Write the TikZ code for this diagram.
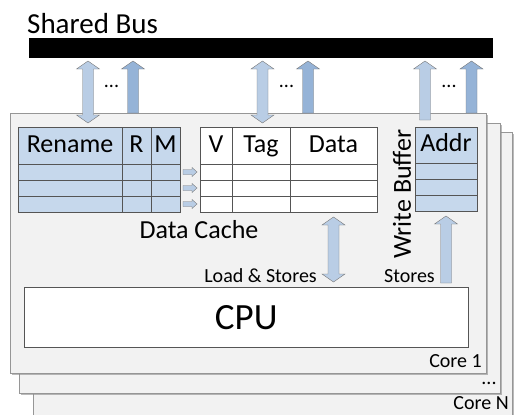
\documentclass[tikz,border=0pt]{standalone}
\usepackage{fontspec}
\setmainfont{Carlito}
\usetikzlibrary{calc, positioning, shadows}
\definecolor{corefill}{RGB}{242,242,242}
\definecolor{coreline}{RGB}{150,150,150}
\definecolor{tabblue}{RGB}{198,216,236}
\definecolor{gridline}{RGB}{85,85,85}
\definecolor{arrowlight}{RGB}{185,205,229}
\definecolor{arrowdark}{RGB}{149,179,215}
\definecolor{arrowline}{RGB}{120,120,120}

\tikzset{
  blocksize/.code n args={3}{\def\ashaft{#1}\def\ahead{#2}\def\alen{#3}},
  % block arrow with one head, drawn from the tail to the tip
  onehead/.style={draw=arrowline, to path={
    let \p1=(\tikztostart), \p2=(\tikztotarget),
        \p3=($(\p2)!\alen!(\p1)$) in
    ($(\p1)!\ashaft!90:(\p2)$) -- ($(\p3)!\ashaft!90:(\p2)$)
    -- ($(\p3)!\ahead!90:(\p2)$) -- (\p2) -- ($(\p3)!\ahead!-90:(\p2)$)
    -- ($(\p3)!\ashaft!-90:(\p2)$) -- ($(\p1)!\ashaft!-90:(\p2)$) -- cycle}},
  % block arrow with a head at both ends
  twohead/.style={draw=arrowline, to path={
    let \p1=(\tikztostart), \p2=(\tikztotarget),
        \p3=($(\p2)!\alen!(\p1)$), \p4=($(\p1)!\alen!(\p2)$) in
    (\p1) -- ($(\p4)!\ahead!90:(\p2)$) -- ($(\p4)!\ashaft!90:(\p2)$)
    -- ($(\p3)!\ashaft!90:(\p2)$) -- ($(\p3)!\ahead!90:(\p2)$) -- (\p2)
    -- ($(\p3)!\ahead!-90:(\p2)$) -- ($(\p3)!\ashaft!-90:(\p2)$)
    -- ($(\p4)!\ashaft!-90:(\p2)$) -- ($(\p4)!\ahead!-90:(\p2)$) -- cycle}},
  corebox/.style={draw=coreline, fill=corefill, anchor=north west, inner sep=0pt,
    drop shadow={shadow xshift=1.5pt, shadow yshift=-1.5pt, fill=black!45, opacity=.6}},
  cell/.style={draw=gridline, outer sep=0pt, inner sep=0pt, minimum height=16pt},
  headcell/.style={cell, minimum height=37pt, text height=17pt, text depth=4pt,
    font=\fontsize{26}{30}\selectfont},
  bigtext/.style={inner sep=0pt, font=\fontsize{26}{30}\selectfont},
  smalltext/.style={inner sep=0pt, font=\fontsize{20}{24}\selectfont},
}

\begin{document}
\begin{tikzpicture}[x=1pt, y=-1pt, blocksize={5.5pt}{11.5pt}{8pt}]
  \useasboundingbox (0,0) rectangle (515,415);

  % the bus
  \node[inner sep=0pt, font=\fontsize{29}{32}\selectfont, anchor=base west]
    (busname) at (27,33) {Shared Bus};
  \node[fill=black, anchor=north west, inner sep=0pt,
        minimum width=464pt, minimum height=20pt] (bus) at (29,38) {};

  % cores, back to front
  \node[corebox, minimum width=479pt, minimum height=300pt] (coreN) at (33,132) {};
  \node[corebox, minimum width=481pt, minimum height=270pt] (core2) at (19,123) {};
  \node[corebox, minimum width=476pt, minimum height=260pt] (core1) at (10,113) {};
  \node[smalltext, anchor=base east] (coreNname) at (509,409) {Core N};
  \node[smalltext] (coredots) at (489,383) {...};
  \node[smalltext, anchor=base east] (core1name) at (482,367) {Core 1};

  % rename table
  \node[headcell, fill=tabblue, minimum width=104pt, anchor=north west] (ren) at (18,127) {Rename};
  \node[headcell, fill=tabblue, minimum width=29pt, right=0pt of ren] (rr) {R};
  \node[headcell, fill=tabblue, minimum width=29pt, right=0pt of rr] (rm) {M};
  \foreach \col/\w in {ren/104pt, rr/29pt, rm/29pt} {
    \node[cell, fill=tabblue, minimum width=\w, below=0pt of \col] (\col1) {};
    \node[cell, fill=tabblue, minimum width=\w, below=0pt of \col1] (\col2) {};
    \node[cell, fill=tabblue, minimum width=\w, below=0pt of \col2] (\col3) {};
  }

  % data cache
  \node[headcell, fill=white, minimum width=32pt, anchor=north west] (v) at (200,127) {V};
  \node[headcell, fill=white, minimum width=58pt, right=0pt of v] (tag) {Tag};
  \node[headcell, fill=white, minimum width=87pt, right=0pt of tag] (dat) {Data};
  \foreach \col/\w in {v/32pt, tag/58pt, dat/87pt} {
    \node[cell, fill=white, minimum width=\w, below=0pt of \col] (\col1) {};
    \node[cell, fill=white, minimum width=\w, below=0pt of \col1] (\col2) {};
    \node[cell, fill=white, minimum width=\w, below=0pt of \col2] (\col3) {};
  }
  \node[bigtext, anchor=base] (cachename) at (199,238) {Data Cache};

  % write buffer
  \node[headcell, fill=tabblue, minimum width=62pt, minimum height=36pt,
        anchor=north west] (addr) at (415,127) {Addr};
  \node[cell, fill=tabblue, minimum width=62pt, below=0pt of addr] (addr1) {};
  \node[cell, fill=tabblue, minimum width=62pt, below=0pt of addr1] (addr2) {};
  \node[cell, fill=tabblue, minimum width=62pt, below=0pt of addr2] (addr3) {};
  \node[bigtext, rotate=90] (wbname) at (402,194) {Write Buffer};

  % cpu
  \node[draw=gridline, fill=white, anchor=north west, minimum width=444pt,
        minimum height=60pt, font=\fontsize{37}{40}\selectfont] (cpu) at (24,287) {CPU};
  \node[smalltext, anchor=base east] (ldst) at (317,282) {Load \& Stores};
  \node[smalltext, anchor=base east] (st) at (435,282) {Stores};

  % bus connections
  \coordinate (tap1) at (88,61);
  \coordinate (tap2) at (133,61);
  \coordinate (tap3) at (262.5,61);
  \coordinate (tap4) at (308,61);
  \coordinate (tap5) at (425,61);
  \coordinate (tap6) at (471.5,61);
  \draw[twohead, fill=arrowlight] (tap1) to ([yshift=4pt]tap1 |- ren.north);
  \draw[onehead, fill=arrowdark] (tap2 |- core1.north) to (tap2);
  \draw[twohead, fill=arrowlight] (tap3) to ([yshift=4pt]tap3 |- v.north);
  \draw[onehead, fill=arrowdark] (tap4 |- core1.north) to (tap4);
  \draw[onehead, fill=arrowlight] ([yshift=7pt]tap5 |- addr.north) to (tap5);
  \draw[onehead, fill=arrowdark] (tap6 |- core1.north) to (tap6);
  \node[smalltext] (dots1) at (111.5,86) {...};
  \node[smalltext] (dots2) at (286.5,86) {...};
  \node[smalltext] (dots3) at (449,86) {...};

  % inside the core
  \foreach \r in {1,2,3}
    \draw[onehead, fill=arrowlight, blocksize={2.5pt}{4.5pt}{5pt}]
      ([xshift=3pt]rm\r.east) to ([xshift=-3pt]v\r.west);
  \draw[twohead, fill=arrowlight] ([yshift=-5pt]dat3.south) to ([yshift=5pt]dat3.south |- cpu.north);
  \draw[onehead, fill=arrowlight] ([yshift=4pt]addr3.south |- cpu.north) to ([yshift=-5pt]addr3.south);
\end{tikzpicture}
\end{document}
